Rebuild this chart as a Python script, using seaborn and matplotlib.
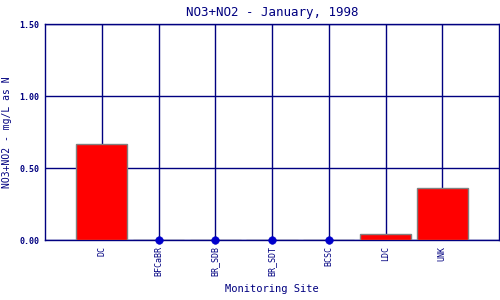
import matplotlib
matplotlib.use("Agg")
import matplotlib.pyplot as plt
import seaborn as sns
import pandas as pd
import numpy as np

sites = ["DC", "BFCaBR", "BR_SDB", "BR_SDT", "BCSC", "LDC", "UNK"]
values = [0.67, 0.0, 0.0, 0.0, 0.0, 0.04, 0.36]
yticks = [0.0, 0.5, 1.0, 1.5]
ytick_labels = ["0.00", "0.50", "1.00", "1.50"]

sns.set_style("white")
plt.rcParams['font.family'] = ['DejaVu Sans Mono', 'DejaVu Sans']
navy = "#000080"

df = pd.DataFrame({"site": sites, "value": values})
fig = plt.figure(figsize=(5, 3), dpi=100)
ax = fig.add_axes([0.09, 0.2, 0.908, 0.72])

sns.barplot(data=df, x="site", y="value", color="#ff0000", edgecolor="#808080",
            linewidth=1.0, width=0.9, saturation=1, ax=ax, zorder=3)
zero = df[df["value"] == 0]
sns.scatterplot(data=zero, x="site", y="value", color="#0000cc", s=30,
                edgecolor="#0000cc", zorder=5, clip_on=False, ax=ax, legend=False)

ax.set_axisbelow(True)
ax.grid(True, axis="both", color=navy, linewidth=1.0)
ax.set_xlim(-1, 7)
ax.set_ylim(0, 1.5)
ax.set_yticks(yticks)
ax.set_yticklabels(ytick_labels, fontsize=6, color=navy, fontweight="bold")
ax.set_xticks(range(len(sites)))
ax.set_xticklabels(sites, rotation=90, fontsize=6, color=navy)
ax.tick_params(axis="both", length=0, pad=4)
for s in ax.spines.values():
    s.set_color(navy)
    s.set_linewidth(1.0)
    s.set_visible(True)
ax.set_title("NO3+NO2 - January, 1998", fontsize=9, color=navy, pad=6)
ax.set_xlabel("Monitoring Site", fontsize=7.5, color=navy, labelpad=6)
ax.set_ylabel("NO3+NO2 - mg/L as N", fontsize=7, color=navy, labelpad=5)

fig.savefig("out.png", dpi=100)
